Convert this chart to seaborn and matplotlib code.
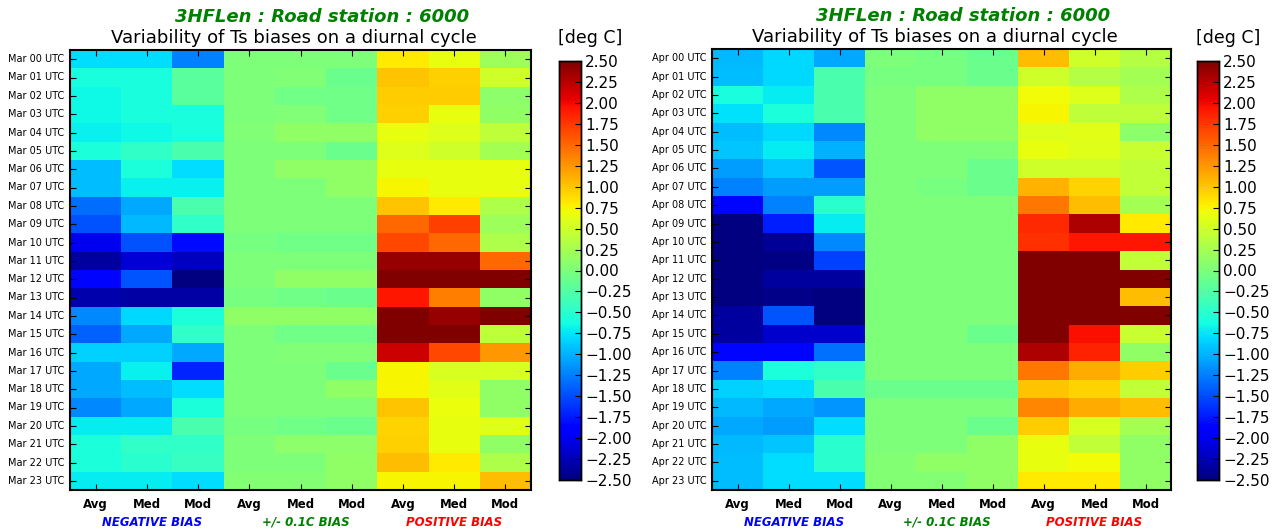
import numpy as np
import pandas as pd
import matplotlib
matplotlib.use("Agg")
import matplotlib.pyplot as plt
import matplotlib.ticker as mticker
import seaborn as sns

# ---------------- data ----------------
hours = [f"{h:02d}" for h in range(24)]
stats = ["Avg", "Med", "Mod"]
group_names = ["NEGATIVE BIAS", "+/- 0.1C BIAS", "POSITIVE BIAS"]
group_colors = ["blue", "green", "red"]
title_main = "3HFLen : Road station : 6000"
title_sub = "Variability of Ts biases on a diurnal cycle"
unit_label = "[deg C]"
cbar_ticks = [-2.5, -2.25, -2.0, -1.75, -1.5, -1.25, -1.0, -0.75, -0.5, -0.25, 0.0,
              0.25, 0.5, 0.75, 1.0, 1.25, 1.5, 1.75, 2.0, 2.25, 2.5]

# March: rows = hours 00..23, columns = Avg, Med, Mod
mar_negative = [
    [-0.80, -0.80, -1.25], [-0.60, -0.60, -0.20], [-0.65, -0.60, -0.20], [-0.65, -0.60, -0.60],
    [-0.70, -0.65, -0.60], [-0.58, -0.45, -0.30], [-0.95, -0.58, -0.80], [-0.95, -0.70, -0.70],
    [-1.33, -1.05, -0.30], [-1.48, -0.97, -0.45], [-2.00, -1.48, -1.82], [-2.36, -2.12, -2.22],
    [-1.85, -1.45, -2.50], [-2.30, -2.33, -2.33], [-1.20, -0.81, -0.58], [-1.40, -1.05, -0.45],
    [-0.85, -0.85, -1.05], [-1.05, -0.70, -1.68], [-1.05, -0.95, -0.80], [-1.20, -1.05, -0.58],
    [-0.72, -0.72, -0.30], [-0.58, -0.45, -0.45], [-0.58, -0.50, -0.42], [-0.72, -0.72, -0.80],
]
mar_neutral = [
    [0.00, 0.00, 0.00], [0.00, 0.02, -0.10], [0.00, -0.07, -0.07], [0.00, 0.02, -0.07],
    [0.03, 0.12, 0.12], [0.00, 0.00, -0.10], [0.00, 0.12, 0.12], [0.00, 0.00, 0.12],
    [0.00, 0.00, 0.00], [0.00, 0.00, 0.00], [-0.02, -0.07, -0.07], [0.00, 0.00, 0.00],
    [0.00, 0.12, 0.12], [-0.03, -0.07, -0.10], [0.12, 0.12, 0.12], [0.00, -0.07, -0.07],
    [0.00, 0.03, 0.03], [0.00, 0.00, -0.10], [0.00, 0.00, 0.12], [0.00, 0.00, 0.00],
    [-0.02, -0.07, -0.10], [0.00, 0.10, 0.10], [0.00, 0.00, 0.12], [0.05, 0.05, 0.12],
]
mar_positive = [
    [0.82, 0.66, 0.20], [1.00, 0.95, 0.50], [0.97, 0.97, 0.10], [0.95, 0.66, 0.12],
    [0.65, 0.60, 0.40], [0.60, 0.50, 0.25], [0.65, 0.65, 0.65], [0.75, 0.66, 0.66],
    [1.00, 0.82, 0.30], [1.50, 1.70, 0.20], [1.67, 1.50, 0.30], [2.40, 2.40, 1.50],
    [2.50, 2.50, 2.50], [1.93, 1.38, 0.12], [2.50, 2.40, 2.50], [2.50, 2.50, 0.40],
    [2.15, 1.67, 1.24], [0.75, 0.55, 0.55], [0.75, 0.62, 0.12], [1.00, 0.68, 0.12],
    [0.92, 0.66, 0.60], [0.95, 0.66, 0.12], [1.05, 0.82, 0.30], [0.75, 0.75, 1.05],
]

# April
apr_negative = [
    [-0.97, -0.82, -1.05], [-0.95, -0.82, -0.30], [-0.60, -0.72, -0.30], [-0.78, -0.58, -0.30],
    [-0.95, -0.82, -1.20], [-0.90, -0.72, -1.00], [-1.10, -0.90, -1.45], [-1.25, -1.10, -1.10],
    [-1.85, -1.25, -0.50], [-2.50, -1.72, -0.72], [-2.50, -2.40, -1.20], [-2.50, -2.48, -1.55],
    [-2.50, -2.35, -2.35], [-2.50, -2.45, -2.50], [-2.35, -1.45, -2.50], [-2.35, -2.15, -2.15],
    [-1.85, -1.85, -1.32], [-1.25, -0.58, -0.45], [-0.85, -0.80, -0.30], [-0.97, -1.05, -1.15],
    [-1.05, -1.10, -0.80], [-0.97, -0.90, -0.50], [-0.95, -0.80, -0.50], [-0.95, -0.80, -0.80],
]
apr_neutral = [
    [0.00, -0.03, -0.10], [-0.03, -0.03, -0.10], [0.00, 0.12, 0.12], [0.00, 0.12, 0.12],
    [0.00, 0.12, 0.12], [0.00, 0.00, 0.00], [0.00, 0.00, -0.10], [0.00, -0.03, -0.10],
    [0.00, 0.00, 0.00], [0.00, 0.00, 0.00], [0.00, 0.00, 0.00], [0.00, 0.00, 0.00],
    [0.00, 0.00, 0.00], [0.00, 0.00, 0.00], [0.00, 0.00, 0.00], [0.00, 0.00, -0.10],
    [0.00, 0.00, 0.00], [0.00, 0.00, 0.00], [-0.10, -0.10, -0.10], [0.00, 0.00, 0.00],
    [0.00, 0.00, -0.10], [0.00, 0.00, 0.12], [0.05, 0.12, 0.12], [0.05, 0.05, 0.12],
]
apr_positive = [
    [1.05, 0.50, 0.35], [0.50, 0.35, 0.25], [0.72, 0.60, 0.30], [0.75, 0.40, 0.40],
    [0.60, 0.62, 0.10], [0.66, 0.60, 0.45], [0.50, 0.50, 0.42], [1.10, 0.92, 0.42],
    [1.42, 1.05, 0.25], [1.82, 2.30, 0.82], [1.78, 1.93, 1.93], [2.50, 2.50, 0.42],
    [2.50, 2.50, 2.50], [2.50, 2.50, 1.05], [2.50, 2.50, 2.50], [2.50, 1.97, 0.45],
    [2.30, 1.87, 0.12], [1.42, 1.15, 0.97], [1.00, 0.92, 0.42], [1.33, 1.15, 1.05],
    [0.97, 0.55, 0.25], [0.66, 0.42, 0.12], [0.66, 0.72, 0.12], [0.82, 0.82, 0.12],
]

panels = [
    ("Mar", mar_negative, mar_neutral, mar_positive),
    ("Apr", apr_negative, apr_neutral, apr_positive),
]

# ---------------- layout ----------------
W, H = 1274, 531
fig = plt.figure(figsize=(W / 100, H / 100), dpi=100)
fig.patch.set_facecolor("white")


def px_rect(x0, y0, x1, y1):
    return [x0 / W, 1 - y1 / H, (x1 - x0) / W, (y1 - y0) / H]


heat_rects = [px_rect(70, 50, 531, 490), px_rect(712, 49, 1171, 490)]
cbar_rects = [px_rect(559, 61, 581, 480), px_rect(1197, 61, 1219, 480)]
group_pos = [1.6, 4.6, 7.5]

minus_fmt = mticker.FuncFormatter(lambda v, p: f"{v:.2f}".replace("-", "\u2212"))

for (month, neg, neu, pos), hr, cr in zip(panels, heat_rects, cbar_rects):
    data = np.hstack([np.array(neg), np.array(neu), np.array(pos)])
    cols = [f"{g}|{s}" for g in group_names for s in stats]
    rows = [f"{month} {h} UTC" for h in hours]
    df = pd.DataFrame(data, index=rows, columns=cols)

    ax = fig.add_axes(hr)
    cax = fig.add_axes(cr)
    sns.heatmap(df, ax=ax, cbar_ax=cax, cmap="jet", vmin=-2.5, vmax=2.5,
                xticklabels=stats * 3, yticklabels=rows,
                cbar_kws={"ticks": cbar_ticks, "format": minus_fmt})
    ax.set_xlabel("")
    ax.set_ylabel("")
    for sp in ax.spines.values():
        sp.set_visible(True)
        sp.set_linewidth(1.5)
        sp.set_color("black")
    ax.tick_params(axis="both", direction="in", length=4, width=0.8,
                   top=True, right=True, color="black")
    ax.tick_params(axis="y", labelsize=7, pad=4)
    ax.tick_params(axis="x", labelsize=8.5, pad=6)
    for lab in ax.get_xticklabels():
        lab.set_fontweight("bold")
        lab.set_rotation(0)
    for lab in ax.get_yticklabels():
        lab.set_rotation(0)

    for gx, gname, gcol in zip(group_pos, group_names, group_colors):
        ax.text(gx, 24 + 1.75, gname, color=gcol, fontsize=8.5, fontweight="bold",
                fontstyle="italic", ha="center", va="center", clip_on=False)

    ax.text(0.5 - 7 / 461, 1 + 12 / 440, title_sub, transform=ax.transAxes,
            color="black", fontsize=13, ha="center", va="center")
    ax.text(0.5 + 22 / 461, 1 + 33 / 440, title_main, transform=ax.transAxes,
            color="green", fontsize=13, fontweight="bold", fontstyle="italic",
            ha="center", va="center")

    cax.tick_params(direction="in", length=4, labelsize=11, color="black", pad=3)
    for sp in cax.spines.values():
        sp.set_visible(True)
        sp.set_linewidth(1)
    cax.set_title(unit_label, fontsize=12.5, pad=13, x=1.4)

fig.savefig("out.png", dpi=100)
